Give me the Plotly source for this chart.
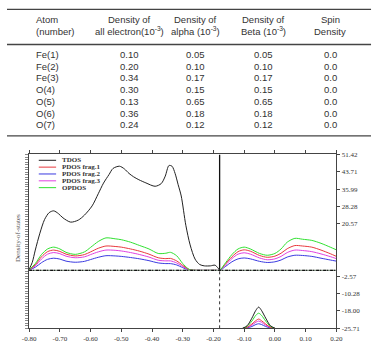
import plotly.graph_objects as go

W, H = 379, 346

# ---------------- table data ----------------
col_headers_1 = ["Atom", "Density of", "Density of", "Density of", "Spin"]
col_headers_2 = ["(number)", "all electron(10<sup>-3</sup>)", "alpha (10<sup>-3</sup>)", "Beta (10<sup>-3</sup>)", "Density"]
atoms = ["Fe(1)", "Fe(2)", "Fe(3)", "O(4)", "O(5)", "O(6)", "O(7)"]
dens_all = [0.10, 0.20, 0.34, 0.30, 0.13, 0.36, 0.24]
dens_alpha = [0.05, 0.10, 0.17, 0.15, 0.65, 0.18, 0.12]
dens_beta = [0.05, 0.10, 0.17, 0.15, 0.65, 0.18, 0.12]
spin = [0.0, 0.0, 0.0, 0.0, 0.0, 0.0, 0.0]

# ---------------- DOS data ----------------
tdos_x = [-0.80, -0.79, -0.78, -0.765, -0.75, -0.735, -0.72, -0.705, -0.69, -0.665, -0.64, -0.62,
          -0.595, -0.575, -0.558, -0.54, -0.527, -0.506, -0.49, -0.475, -0.46, -0.443, -0.42,
          -0.39, -0.37, -0.357, -0.345, -0.335, -0.325, -0.315, -0.305, -0.29, -0.276, -0.26,
          -0.245, -0.23, -0.21, -0.195, -0.185, -0.18]
tdos_y = [0.5, 3.5, 9.0, 16.5, 22.5, 25.6, 26.4, 25.2, 23.3, 21.4, 22.3, 24.5,
          28.6, 34.0, 38.7, 42.5, 45.2, 46.2, 45.0, 43.0, 41.5, 40.2, 38.8,
          37.3, 38.5, 41.8, 46.5, 46.2, 43.0, 38.0, 33.0, 20.0, 11.3, 5.0,
          2.6, 2.0, 2.0, 2.3, 1.0, 0.0]

pdos_x = [-0.80, -0.78, -0.76, -0.74, -0.72, -0.70, -0.68, -0.65, -0.62, -0.60, -0.575, -0.55,
          -0.52, -0.50, -0.47, -0.44, -0.41, -0.38, -0.355, -0.34, -0.32, -0.30, -0.285, -0.275,
          -0.25, -0.22, -0.19, -0.18, -0.16, -0.14, -0.12, -0.10, -0.08, -0.05, -0.025, 0.00,
          0.02, 0.04, 0.065, 0.09, 0.12, 0.15, 0.18, 0.20]
opdos_y = [0.3, 3.0, 7.0, 9.5, 10.3, 9.5, 8.0, 7.1, 8.2, 10.2, 12.8, 14.4,
           14.0, 13.6, 12.5, 11.0, 9.5, 7.5, 7.6, 8.0, 6.5, 3.0, 1.0, 0.2,
           0.0, 0.0, 0.0, 0.0, 3.5, 7.0, 9.5, 10.3, 9.5, 7.5, 6.7, 7.5,
           9.5, 12.5, 14.2, 13.8, 13.3, 12.0, 10.3, 9.1]
frag1_y = [0.2, 2.5, 6.0, 8.3, 9.0, 8.4, 7.2, 6.4, 7.0, 8.2, 9.8, 10.8,
           10.6, 10.3, 9.5, 8.5, 7.2, 5.6, 5.2, 5.3, 4.2, 2.2, 0.8, 0.2,
           0.0, 0.0, 0.0, 0.0, 3.0, 6.0, 8.3, 9.1, 8.5, 6.6, 5.8, 6.3,
           7.6, 9.6, 11.0, 10.8, 10.3, 9.0, 7.4, 6.2]
frag3_y = [0.2, 2.0, 5.0, 7.2, 7.9, 7.4, 6.3, 5.6, 6.0, 7.0, 8.2, 9.0,
           8.9, 8.6, 7.9, 7.0, 5.9, 4.5, 4.2, 4.2, 3.3, 1.7, 0.6, 0.1,
           0.0, 0.0, 0.0, 0.0, 2.5, 5.2, 7.2, 7.8, 7.2, 5.5, 4.7, 5.1,
           6.2, 7.9, 9.0, 8.8, 8.3, 7.3, 6.1, 5.2]
frag2_y = [0.1, 1.4, 3.4, 4.9, 5.4, 5.0, 4.1, 3.6, 4.0, 4.8, 5.8, 6.5,
           6.4, 6.2, 5.7, 5.1, 4.3, 3.3, 3.0, 3.0, 2.4, 1.2, 0.4, 0.1,
           0.0, 0.0, 0.0, 0.0, 1.8, 3.8, 5.1, 5.5, 5.1, 4.0, 3.5, 3.8,
           4.6, 5.9, 6.7, 6.6, 6.2, 5.4, 4.6, 4.1]

# lower (negative) peak
neg_x = [-0.105, -0.09, -0.075, -0.062, -0.053, -0.044, -0.03, -0.015, 0.0]
neg_tdos = [-25.71, -24.5, -21.2, -17.7, -16.3, -17.7, -21.2, -24.5, -25.71]
neg_opdos = [-25.71, -24.8, -22.5, -19.9, -19.0, -19.9, -22.5, -24.8, -25.71]
neg_frag1 = [-25.71, -25.2, -23.8, -22.3, -21.6, -22.3, -23.8, -25.2, -25.71]
neg_frag3 = [-25.71, -25.3, -24.3, -23.0, -22.5, -23.0, -24.3, -25.3, -25.71]
neg_frag2 = [-25.71, -25.5, -24.9, -24.0, -23.7, -24.0, -24.9, -25.5, -25.71]

fermi = -0.18
y_min, y_max = -25.71, 51.42
x_ticks = [-0.80, -0.70, -0.60, -0.50, -0.40, -0.30, -0.20, -0.10, 0.00, 0.10, 0.20]
y_ticks = [51.42, 43.71, 35.99, 28.28, 20.57, -2.57, -10.28, -18.00, -25.71]

series = [
    ("TDOS", "#222222", None),
    ("PDOS frag.1", "#e8383d", frag1_y),
    ("PDOS frag.2", "#3a3ae0", frag2_y),
    ("PDOS frag.3", "#e040e0", frag3_y),
    ("OPDOS", "#30e030", opdos_y),
]
neg = {"TDOS": neg_tdos, "PDOS frag.1": neg_frag1, "PDOS frag.2": neg_frag2,
       "PDOS frag.3": neg_frag3, "OPDOS": neg_opdos}

fig = go.Figure()

order = ["PDOS frag.2", "PDOS frag.3", "PDOS frag.1", "OPDOS", "TDOS"]
lookup = {n: (c, y) for n, c, y in series}
for name in order:
    color, ys = lookup[name]
    if name == "TDOS":
        xs, yv = tdos_x, tdos_y
    else:
        xs, yv = pdos_x, ys
    fig.add_trace(go.Scatter(x=xs, y=yv, mode="lines",
                             line=dict(color=color, width=1, shape="spline", smoothing=0.8),
                             showlegend=False, hoverinfo="skip"))
    fig.add_trace(go.Scatter(x=neg_x, y=neg[name], mode="lines",
                             line=dict(color=color, width=1, shape="spline", smoothing=0.8),
                             showlegend=False, hoverinfo="skip"))

# fermi line
fig.add_trace(go.Scatter(x=[fermi, fermi], y=[0, y_max], mode="lines",
                         line=dict(color="#111111", width=1.3), showlegend=False, hoverinfo="skip"))
fig.add_trace(go.Scatter(x=[fermi, fermi], y=[y_min, 0], mode="lines",
                         line=dict(color="#333333", width=1, dash="dot"), showlegend=False, hoverinfo="skip"))

# baseline
fig.add_trace(go.Scatter(x=[-0.80, 0.20], y=[0, 0], mode="lines",
                         line=dict(color="#8a9a8a", width=1.4), showlegend=False, hoverinfo="skip"))
fig.add_trace(go.Scatter(x=[-0.80, 0.20], y=[0, 0], mode="lines", yaxis="y2",
                         line=dict(color="#111111", width=1.2, dash="3px,1px,1px,2px"),
                         showlegend=False, hoverinfo="skip"))

x0d, x1d = 23 / W, 342 / W
y0d, y1d = 1 - 332 / H, 1 - 154 / H
serif = "Liberation Serif"
sans = "Liberation Sans"

fig.update_layout(
    width=W, height=H, margin=dict(l=0, r=0, t=0, b=0),
    paper_bgcolor="white", plot_bgcolor="white",
    xaxis=dict(domain=[x0d, x1d], range=[-0.80, 0.20], tickvals=x_ticks,
               ticktext=[f"{v:.2f}" for v in x_ticks], ticks="outside", ticklen=3,
               tickcolor="#444", showline=True, linecolor="#444", linewidth=1,
               mirror="ticks", showgrid=False, zeroline=False,
               tickfont=dict(family=serif, size=7, color="#333"), anchor="y"),
    yaxis=dict(domain=[y0d, y1d], range=[y_min, y_max], side="right", tickvals=y_ticks,
               ticktext=[f"{v:.2f}" for v in y_ticks], ticks="outside", ticklen=3,
               tickcolor="#444", showline=True, linecolor="#444", linewidth=1,
               showgrid=False, zeroline=False,
               tickfont=dict(family=serif, size=7, color="#333"), anchor="x"),
    yaxis2=dict(overlaying="y", side="left", range=[y_min, y_max], tick0=y_min, dtick=1.1,
                ticks="outside", ticklen=3, tickwidth=0.7, tickcolor="#888",
                showticklabels=False, showline=True, linecolor="#444", linewidth=1,
                showgrid=False, zeroline=False, anchor="x"),
)

shapes = []
annotations = []

# legend
leg_y = [160, 167, 174, 181, 188]
for (name, color, _), py in zip(series, leg_y):
    shapes.append(dict(type="line", xref="paper", yref="paper", x0=33 / W, x1=51 / W,
                       y0=1 - py / H, y1=1 - py / H, line=dict(color=color, width=1)))
    annotations.append(dict(xref="paper", yref="paper", x=55 / W, y=1 - py / H, text=f"<b>{name}</b>",
                            showarrow=False, xanchor="left", yanchor="middle",
                            font=dict(family=serif, size=7, color="#333")))

# y title
annotations.append(dict(xref="paper", yref="paper", x=12 / W, y=1 - 240 / H, text="Density-of-states",
                        showarrow=False, textangle=-90, xanchor="center", yanchor="middle",
                        font=dict(family=serif, size=7, color="#555")))

# table lines
for py in [5.5, 41.5, 135]:
    shapes.append(dict(type="line", xref="paper", yref="paper", x0=0, x1=378 / W,
                       y0=1 - py / H, y1=1 - py / H, line=dict(color="#444", width=1.4)))

col_x = [28, 127, 196, 266.5, 335.5]
col_anchor = ["left", "center", "center", "center", "center"]
tfont = dict(family=sans, size=9.5, color="#333")
for cx, anc, h1, h2 in zip(col_x, col_anchor, col_headers_1, col_headers_2):
    annotations.append(dict(xref="paper", yref="paper", x=cx / W, y=1 - 15.7 / H, text=h1,
                            showarrow=False, xanchor=anc, yanchor="middle", font=tfont))
    annotations.append(dict(xref="paper", yref="paper", x=cx / W, y=1 - 27.7 / H, text=h2,
                            showarrow=False, xanchor=anc, yanchor="middle", font=tfont))

for i in range(len(atoms)):
    py = 51.7 + i * 12.0
    vals = [atoms[i], f"{dens_all[i]:.2f}", f"{dens_alpha[i]:.2f}", f"{dens_beta[i]:.2f}", f"{spin[i]:.1f}"]
    for cx, anc, v in zip(col_x, col_anchor, vals):
        annotations.append(dict(xref="paper", yref="paper", x=cx / W, y=1 - py / H, text=v,
                                showarrow=False, xanchor=anc, yanchor="middle", font=tfont))

fig.update_layout(shapes=shapes, annotations=annotations)
fig.write_html("out.html")
